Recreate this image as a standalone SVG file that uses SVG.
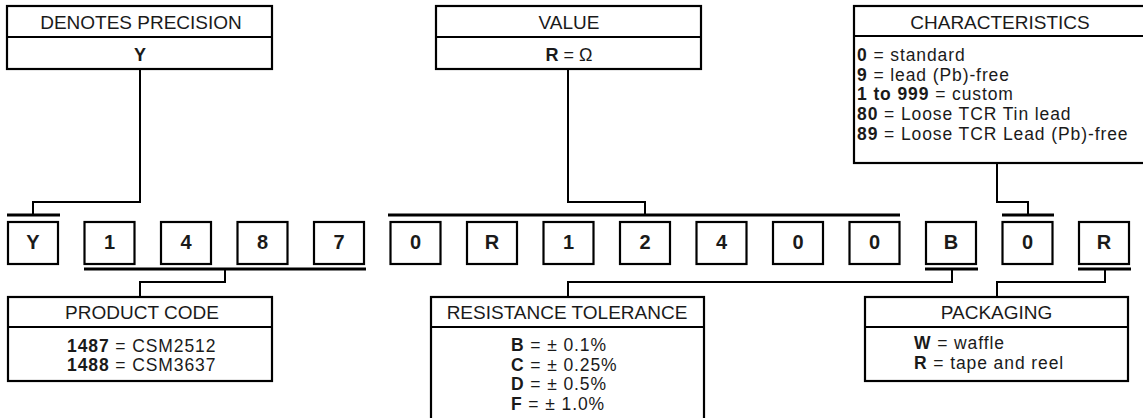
<svg xmlns="http://www.w3.org/2000/svg" width="1143" height="418" viewBox="0 0 1143 418">
<style>
text{font-family:"Liberation Sans",Arial,sans-serif;fill:#1a1a1a}
.hd{font-size:19px;text-anchor:middle}
.bd{font-size:17.5px;letter-spacing:0.9px}
.sm{font-size:18px;text-anchor:middle}
.b{font-weight:bold}
.box{fill:#fff;stroke:#000;stroke-width:2.2}
.div{stroke:#000;stroke-width:2.2}
.cn{fill:none;stroke:#000;stroke-width:2}
.bar{stroke:#000;stroke-width:3.2}
.dg{font-size:20px;font-weight:bold;text-anchor:middle}
</style>
<g id="connectors">
<path class="cn" d="M140 69V202H33V215"/>
<path class="bar" d="M7 215H60"/>
<path class="cn" d="M568 69V202H645V215"/>
<path class="bar" d="M388 215H900"/>
<path class="cn" d="M997 163V202H1028V215"/>
<path class="bar" d="M1002 215H1054"/>
<path class="bar" d="M84 269H366"/>
<path class="cn" d="M225 269V282H140V297"/>
<path class="bar" d="M925 269H978"/>
<path class="cn" d="M952 269V282H568V297"/>
<path class="bar" d="M1078 269H1131"/>
<path class="cn" d="M1105 269V282H997V297"/>
</g>
<g id="precision">
<rect class="box" x="7" y="6" width="265" height="63"/>
<line class="div" x1="7" y1="37" x2="272" y2="37"/>
<text class="hd" x="141" y="29">DENOTES PRECISION</text>
<text class="sm b" x="140" y="61">Y</text>
</g>
<g id="value">
<rect class="box" x="436" y="6" width="265" height="63"/>
<line class="div" x1="436" y1="37" x2="701" y2="37"/>
<text class="hd" x="569" y="29">VALUE</text>
<text class="sm" x="569" y="61"><tspan class="b">R</tspan> = Ω</text>
</g>
<g id="characteristics">
<rect class="box" x="854" y="6" width="300" height="157"/>
<line class="div" x1="854" y1="36" x2="1154" y2="36"/>
<text class="hd" x="1000" y="29">CHARACTERISTICS</text>
<text class="bd" x="857" y="61"><tspan class="b">0</tspan> = standard</text>
<text class="bd" x="857" y="80.7"><tspan class="b">9</tspan> = lead (Pb)-free</text>
<text class="bd" x="857" y="100.4"><tspan class="b">1 to 999</tspan> = custom</text>
<text class="bd" x="857" y="120.1"><tspan class="b">80</tspan> = Loose TCR Tin lead</text>
<text class="bd" x="857" y="139.8"><tspan class="b">89</tspan> = Loose TCR Lead (Pb)-free</text>
</g>
<g id="digits">
<g id="d1"><rect class="box" x="8" y="222" width="50" height="42"/><text class="dg" x="33" y="249">Y</text></g>
<g id="d2"><rect class="box" x="84.5" y="222" width="50" height="42"/><text class="dg" x="109.5" y="249">1</text></g>
<g id="d3"><rect class="box" x="161" y="222" width="50" height="42"/><text class="dg" x="186" y="249">4</text></g>
<g id="d4"><rect class="box" x="237.5" y="222" width="50" height="42"/><text class="dg" x="262.5" y="249">8</text></g>
<g id="d5"><rect class="box" x="314" y="222" width="50" height="42"/><text class="dg" x="339" y="249">7</text></g>
<g id="d6"><rect class="box" x="390.5" y="222" width="50" height="42"/><text class="dg" x="415.5" y="249">0</text></g>
<g id="d7"><rect class="box" x="467" y="222" width="50" height="42"/><text class="dg" x="492" y="249">R</text></g>
<g id="d8"><rect class="box" x="543.5" y="222" width="50" height="42"/><text class="dg" x="568.5" y="249">1</text></g>
<g id="d9"><rect class="box" x="620" y="222" width="50" height="42"/><text class="dg" x="645" y="249">2</text></g>
<g id="d10"><rect class="box" x="696.5" y="222" width="50" height="42"/><text class="dg" x="721.5" y="249">4</text></g>
<g id="d11"><rect class="box" x="773" y="222" width="50" height="42"/><text class="dg" x="798" y="249">0</text></g>
<g id="d12"><rect class="box" x="849.5" y="222" width="50" height="42"/><text class="dg" x="874.5" y="249">0</text></g>
<g id="d13"><rect class="box" x="926" y="222" width="50" height="42"/><text class="dg" x="951" y="249">B</text></g>
<g id="d14"><rect class="box" x="1002.5" y="222" width="50" height="42"/><text class="dg" x="1027.5" y="249">0</text></g>
<g id="d15"><rect class="box" x="1079" y="222" width="50" height="42"/><text class="dg" x="1104" y="249">R</text></g>
</g>
<g id="product">
<rect class="box" x="8" y="297" width="264" height="84"/>
<line class="div" x1="8" y1="327" x2="272" y2="327"/>
<text class="hd" x="142" y="319">PRODUCT CODE</text>
<text class="bd" x="67" y="351.5"><tspan class="b">1487</tspan> = CSM2512</text>
<text class="bd" x="67" y="371.2"><tspan class="b">1488</tspan> = CSM3637</text>
</g>
<g id="tolerance">
<rect class="box" x="431" y="297" width="273" height="140"/>
<line class="div" x1="431" y1="327" x2="704" y2="327"/>
<text class="hd" x="567" y="319">RESISTANCE TOLERANCE</text>
<text class="bd" x="511" y="351"><tspan class="b">B</tspan> = ± 0.1%</text>
<text class="bd" x="511" y="370.7"><tspan class="b">C</tspan> = ± 0.25%</text>
<text class="bd" x="511" y="390.4"><tspan class="b">D</tspan> = ± 0.5%</text>
<text class="bd" x="511" y="410.1"><tspan class="b">F</tspan> = ± 1.0%</text>
</g>
<g id="packaging">
<rect class="box" x="865" y="297" width="263" height="84"/>
<line class="div" x1="865" y1="327" x2="1128" y2="327"/>
<text class="hd" x="996.5" y="319">PACKAGING</text>
<text class="bd" x="914" y="349"><tspan class="b">W</tspan> = waffle</text>
<text class="bd" x="914" y="369"><tspan class="b">R</tspan> = tape and reel</text>
</g>
</svg>
